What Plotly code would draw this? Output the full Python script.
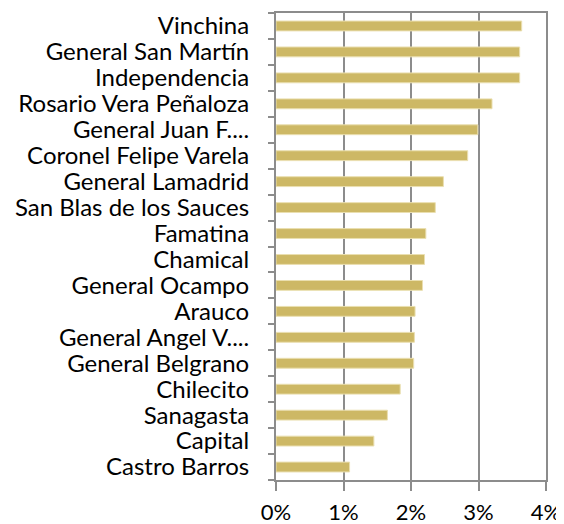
import plotly.graph_objects as go

categories = [
    "Vinchina", "General San Martín", "Independencia", "Rosario Vera Peñaloza",
    "General Juan F....", "Coronel Felipe Varela", "General Lamadrid",
    "San Blas de los Sauces", "Famatina", "Chamical", "General Ocampo", "Arauco",
    "General Angel V....", "General Belgrano", "Chilecito", "Sanagasta", "Capital",
    "Castro Barros",
]
values = [0.0364, 0.0361, 0.0361, 0.0320, 0.0299, 0.0284, 0.0248, 0.0236, 0.0222,
          0.0220, 0.0217, 0.0206, 0.0205, 0.0204, 0.0184, 0.0165, 0.0145, 0.0109]
x_ticks = [0, 0.01, 0.02, 0.03, 0.04]
x_tick_labels = ["0%", "1%", "2%", "3%", "4%"]

FONT = "Lato, Carlito, Calibri, sans-serif"
GRID = "#8c8c8c"

fig = go.Figure(go.Bar(
    x=values, y=categories, orientation="h", width=0.38,
    marker=dict(color="#CDB865", line=dict(color="#EADFB0", width=1)),
))

# page body has an 8px default margin, so the figure is 8px smaller than the window
fig.update_layout(
    width=556, height=516,
    margin=dict(l=268, r=18, t=5, b=44, autoexpand=False),
    plot_bgcolor="white", paper_bgcolor="white",
    font=dict(family=FONT, size=24, color="black"),
    showlegend=False,
)
fig.update_xaxes(
    range=[0, 0.04], tickvals=x_ticks, ticktext=x_tick_labels,
    tickfont=dict(size=22),
    showgrid=True, gridcolor=GRID, gridwidth=2,
    showline=True, linecolor=GRID, linewidth=2, mirror=True,
    ticks="outside", ticklen=9, tickcolor=GRID, tickwidth=2,
    ticklabelstandoff=3, zeroline=False, automargin=False,
)
fig.update_yaxes(
    categoryorder="array", categoryarray=categories[::-1],
    tickmode="linear", tick0=0, dtick=1,
    showgrid=False,
    showline=True, linecolor=GRID, linewidth=2, mirror=True,
    ticks="outside", ticklen=6, tickcolor=GRID, tickwidth=2,
    tickson="boundaries", ticklabelstandoff=20, automargin=False,
)

fig.write_html("out.html")
